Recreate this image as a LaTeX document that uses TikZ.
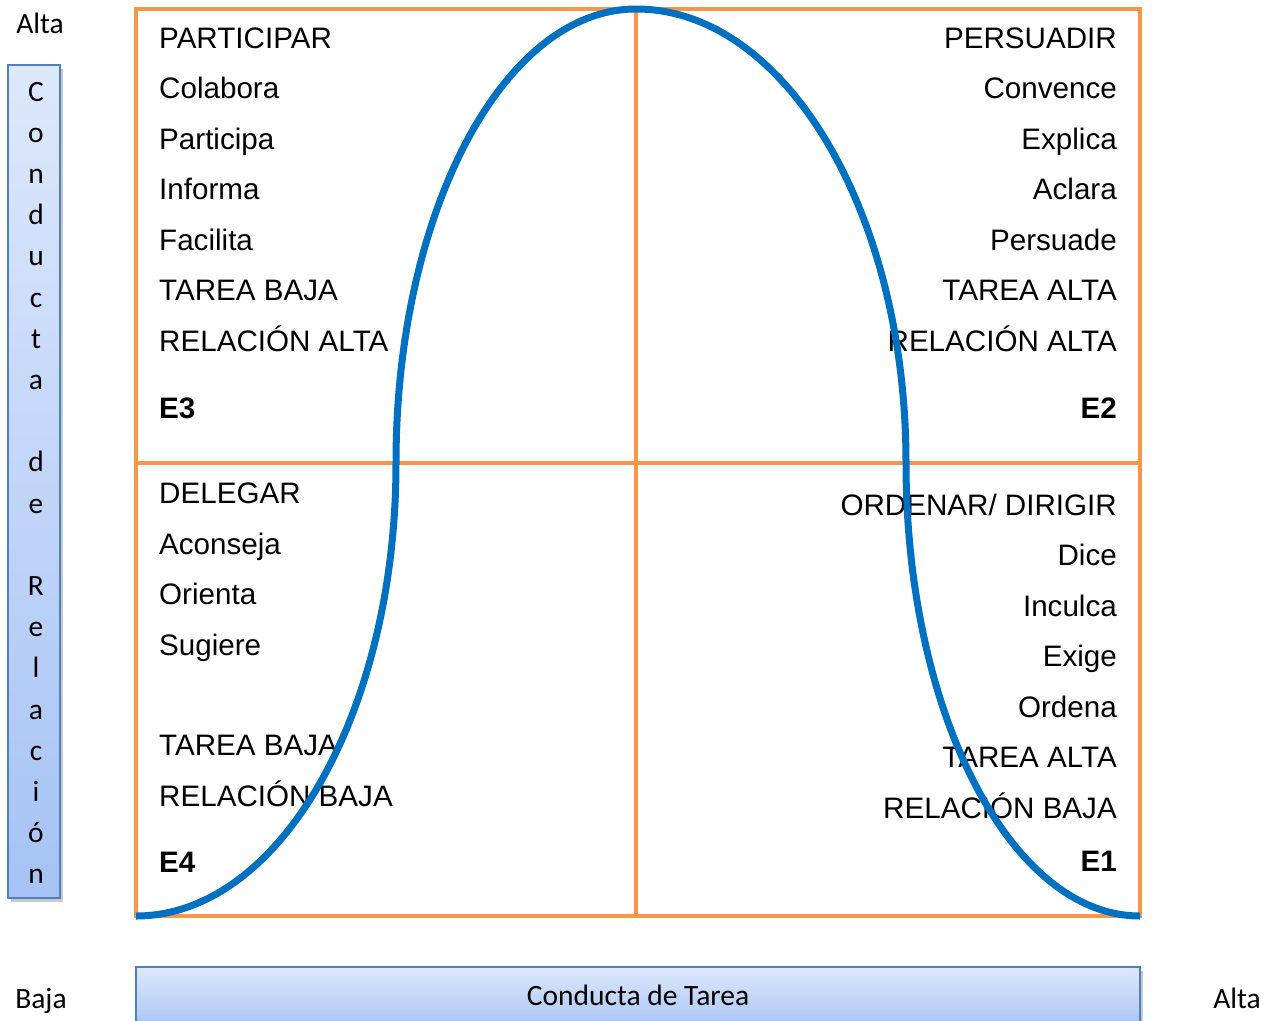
\documentclass[tikz,border=0pt]{standalone}
\usepackage{fontspec}
\setmainfont{Liberation Sans}
\newfontfamily\calfont{Carlito}
\usetikzlibrary{shadows}
\definecolor{gridor}{HTML}{F79646}
\definecolor{curveblue}{HTML}{0070C0}
\definecolor{barborder}{HTML}{4F81BD}
\definecolor{bartop}{HTML}{DDE8FC}
\definecolor{barbot}{HTML}{A6C3F5}
\tikzset{
  grid/.style={draw=gridor, line width=4.5pt},
  curve/.style={draw=curveblue, line width=7pt},
  txtL/.style={anchor=base west, inner sep=0pt, font=\fontsize{29.6}{31}\selectfont},
  txtR/.style={anchor=base east, inner sep=0pt, font=\fontsize{29.6}{31}\selectfont},
  boldL/.style={txtL, font=\fontsize{29.6}{31}\selectfont\bfseries},
  boldR/.style={txtR, font=\fontsize{29.6}{31}\selectfont\bfseries},
  caltxt/.style={anchor=base, inner sep=0pt, font=\calfont\fontsize{29.5}{31}\selectfont},
  bar/.style={draw=barborder, line width=1.8pt, top color=bartop, bottom color=barbot,
    drop shadow={shadow xshift=3pt, shadow yshift=-4pt, opacity=0.35, fill=black!60}}
}
\begin{document}
\begin{tikzpicture}[x=1pt, y=-1pt]
\useasboundingbox (0,0) rectangle (1279,1020);
\fill[white] (0,0) rectangle (1279,1020);

% bars
\path[bar] (8,65) rectangle (60,898);
\path[bar] (136,967) rectangle (1140,1030);

% vertical letters
\foreach \ch [count=\i from 0] in {C,o,n,d,u,c,t,a,{},d,e,{},R,e,l,a,c,i,ó,n} {
  \node[caltxt] (v\i) at (36,{101+41.2*\i}) {\ch};
}
\node[caltxt] (altaT) at (40,33) {Alta};
\node[caltxt] (bajaB) at (41,1008) {Baja};
\node[caltxt] (altaR) at (1237,1008) {Alta};
\node[caltxt] (ctarea) at (638,1005) {Conducta de Tarea};

% grid
\coordinate (tl) at (136,9);
\coordinate (br) at (1140,916);
\draw[grid] (tl) rectangle (br);
\coordinate (mt) at (636,9);
\coordinate (mb) at (636,916);
\coordinate (ml) at (136,463);
\coordinate (mr) at (1140,463);
\draw[grid] (mt) -- (mb);
\draw[grid] (ml) -- (mr);

% upper left
\node[txtL] (a1) at (159,48) {PARTICIPAR};
\node[txtL] (a2) at (159,98.5) {Colabora};
\node[txtL] (a3) at (159,149) {Participa};
\node[txtL] (a4) at (159,199.5) {Informa};
\node[txtL] (a5) at (159,250) {Facilita};
\node[txtL] (a6) at (159,300.5) {TAREA BAJA};
\node[txtL] (a7) at (159,351) {RELACIÓN ALTA};
\node[boldL] (a8) at (159,418) {E3};

% upper right
\node[txtR] (b1) at (1117,48) {PERSUADIR};
\node[txtR] (b2) at (1117,98.5) {Convence};
\node[txtR] (b3) at (1117,149) {Explica};
\node[txtR] (b4) at (1117,199.5) {Aclara};
\node[txtR] (b5) at (1117,250) {Persuade};
\node[txtR] (b6) at (1117,300.5) {TAREA ALTA};
\node[txtR] (b7) at (1117,351) {RELACIÓN ALTA};
\node[boldR] (b8) at (1117,418) {E2};

% lower left
\node[txtL] (c1) at (159,503) {DELEGAR};
\node[txtL] (c2) at (159,554) {Aconseja};
\node[txtL] (c3) at (159,604) {Orienta};
\node[txtL] (c4) at (159,655) {Sugiere};
\node[txtL] (c5) at (159,755) {TAREA BAJA};
\node[txtL] (c6) at (159,806) {RELACIÓN BAJA};
\node[boldL] (c7) at (159,872) {E4};

% lower right
\node[txtR] (d1) at (1117,515) {ORDENAR/ DIRIGIR};
\node[txtR] (d2) at (1117,565.5) {Dice};
\node[txtR] (d3) at (1117,616) {Inculca};
\node[txtR] (d4) at (1117,666.5) {Exige};
\node[txtR] (d5) at (1117,717) {Ordena};
\node[txtR] (d6) at (1117,767.5) {TAREA ALTA};
\node[txtR] (d7) at (1117,818) {RELACIÓN BAJA};
\node[boldR] (d8) at (1117,871) {E1};

% curve
\coordinate (p0) at (136,916);
\coordinate (p1) at (396,463);
\coordinate (p2) at (636,9);
\coordinate (p3) at (906,463);
\coordinate (p4) at (1140,916);
\draw[curve] (p0) .. controls (279.6,916) and (396,713.2) .. (p1)
  .. controls (396,212.3) and (503.4,9) .. (p2)
  .. controls (785.1,9) and (906,212.3) .. (p3)
  .. controls (906,713.2) and (1010.8,916) .. (p4);
\end{tikzpicture}
\end{document}
